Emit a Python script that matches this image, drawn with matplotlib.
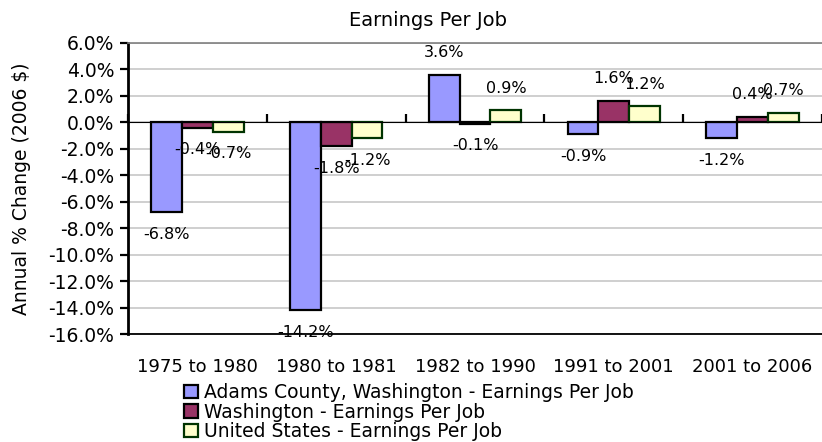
import matplotlib
matplotlib.use("Agg")
import matplotlib.pyplot as plt
import numpy as np

plt.rcParams['font.family'] = ['DejaVu Sans']

categories = ["1975 to 1980", "1980 to 1981", "1982 to 1990", "1991 to 2001", "2001 to 2006"]
series_names = ["Adams County, Washington - Earnings Per Job",
                "Washington - Earnings Per Job",
                "United States - Earnings Per Job"]
adams = [-6.8, -14.2, 3.6, -0.9, -1.2]
washington = [-0.4, -1.8, -0.1, 1.6, 0.4]
united_states = [-0.7, -1.2, 0.9, 1.2, 0.7]
y_ticks = [-16, -14, -12, -10, -8, -6, -4, -2, 0, 2, 4, 6]

face_colors = ["#9999FF", "#993366", "#FFFFCC"]
edge_colors = ["#000000", "#000000", "#003300"]

fig = plt.figure(figsize=(8.22, 4.42), dpi=100)
ax = fig.add_axes([128 / 822, 1 - 334 / 442, 694 / 822, 291 / 442])

x = np.arange(len(categories))
width = 0.222
handles = []
for i, vals in enumerate([adams, washington, united_states]):
    pos = x + (i - 1) * width
    bars = ax.bar(pos, vals, width, color=face_colors[i], edgecolor=edge_colors[i],
                  linewidth=1.6, zorder=3, label=series_names[i])
    handles.append(bars)
    for xp, v in zip(pos, vals):
        off = 16 if v >= 0 else -16
        ax.annotate(f"{v:.1f}%", (xp, v), xytext=(0, off), textcoords="offset points",
                    ha="center", va="center", fontsize=11.5, zorder=5)

ax.set_xlim(-0.5, len(categories) - 0.5)
ax.set_ylim(-16, 6)
ax.set_yticks(y_ticks)
ax.set_yticklabels([f"{t:.1f}%" for t in y_ticks], fontsize=13.5)
ax.yaxis.grid(True, color="#CCCCCC", linewidth=1.3, zorder=0)
ax.set_axisbelow(True)
ax.tick_params(axis="y", direction="out", length=6, width=1.6, pad=4)

ax.set_xticks(x)
ax.set_xticklabels(categories, fontsize=13)
ax.tick_params(axis="x", length=0, pad=17)

ax.spines["right"].set_visible(False)
ax.spines["top"].set_color("#808080")
ax.spines["top"].set_linewidth(1.2)
ax.spines["left"].set_linewidth(2)
ax.spines["bottom"].set_linewidth(1.3)

# category axis crossing at zero
zero_ax = ax.secondary_xaxis(16 / 22)
zero_ax.set_xticks(np.arange(len(categories) + 1) - 0.5)
zero_ax.set_xticklabels([])
zero_ax.tick_params(direction="out", length=6, width=1.6)
zero_ax.spines["bottom"].set_linewidth(2)
zero_ax.set_zorder(4)

fig.text(428 / 822, 1 - 20 / 442, "Earnings Per Job", ha="center", va="center", fontsize=14)
fig.text(22 / 822, 1 - 188.5 / 442, "Annual % Change (2006 $)", rotation=90,
         ha="center", va="center", fontsize=13.5)

fig.legend(handles=handles, loc="upper left", bbox_to_anchor=(184 / 822, 1 - 383 / 442),
           frameon=False, fontsize=13.5, handlelength=0.75, handleheight=0.75,
           handletextpad=0.3, labelspacing=0.03, borderpad=0, borderaxespad=0)

fig.savefig("out.png", dpi=100)
